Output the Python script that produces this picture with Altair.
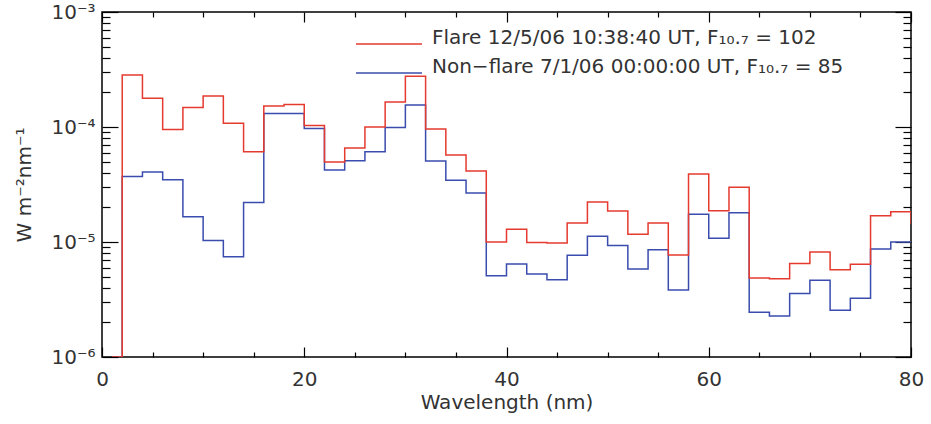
import altair as alt
import pandas as pd

# x positions of step edges (nm); first point is the empty 0-2 nm bin start
wavelength = [1] + list(range(2, 81, 2))

flare = [1e-6,
         2.83e-4, 1.78e-4, 9.5e-5, 1.48e-4, 1.86e-4, 1.08e-4, 6.1e-5, 1.52e-4, 1.57e-4, 1.03e-4,
         4.96e-5, 6.56e-5, 1.0e-4, 1.65e-4, 2.76e-4, 9.6e-5, 5.7e-5, 4.14e-5, 1.0e-5, 1.29e-5,
         9.9e-6, 9.8e-6, 1.46e-5, 2.23e-5, 1.86e-5, 1.17e-5, 1.46e-5, 7.7e-6, 3.9e-5, 1.87e-5,
         2.99e-5, 4.86e-6, 4.8e-6, 6.5e-6, 8.2e-6, 5.75e-6, 6.4e-6, 1.69e-5, 1.83e-5,
         1.43e-5]

nonflare = [1e-6,
            3.72e-5, 4.06e-5, 3.48e-5, 1.66e-5, 1.03e-5, 7.45e-6, 2.21e-5, 1.31e-4, 1.31e-4, 9.7e-5,
            4.23e-5, 5.1e-5, 6.1e-5, 9.9e-5, 1.55e-4, 5.06e-5, 3.44e-5, 2.67e-5, 5.1e-6, 6.44e-6,
            5.27e-6, 4.7e-6, 7.66e-6, 1.12e-5, 9.3e-6, 5.82e-6, 8.57e-6, 3.83e-6, 1.74e-5, 1.08e-5,
            1.8e-5, 2.45e-6, 2.27e-6, 3.56e-6, 4.64e-6, 2.55e-6, 3.24e-6, 8.7e-6, 1.0e-5,
            1.0e-5]

flare_label = "Flare 12/5/06 10:38:40 UT, F\u2081\u2080.\u2087 = 102"
nonflare_label = "Non\u2212flare 7/1/06 00:00:00 UT, F\u2081\u2080.\u2087 = 85"

x_ticks = list(range(0, 81, 5))
y_decades = [1e-6, 1e-5, 1e-4, 1e-3]
y_ticks = [k * d for d in [1e-6, 1e-5, 1e-4] for k in range(1, 10)] + [1e-3]

RED = "#e53a2f"
BLUE = "#3a4cad"
TXT = "#333333"
FONT = "DejaVu Sans"
W, H = 809, 345

df = pd.concat([
    pd.DataFrame({"wl": wavelength, "val": flare, "series": flare_label}),
    pd.DataFrame({"wl": wavelength, "val": nonflare, "series": nonflare_label}),
])

xscale = alt.Scale(domain=[0, 80], nice=False, zero=False)
yscale = alt.Scale(type="log", domain=[1e-6, 1e-3], nice=False)

is_decade = "abs(log(datum.value)/LN10 - round(log(datum.value)/LN10)) < 0.001"
ytick_size = {"condition": {"test": is_decade, "value": 16}, "value": 8}
xtick_size = {"condition": {"test": "datum.value % 20 == 0", "value": 10}, "value": 5}

label_expr = ("round(log(datum.value)/LN10) == -3 ? '10\u207b\u00b3' : "
              "round(log(datum.value)/LN10) == -4 ? '10\u207b\u2074' : "
              "round(log(datum.value)/LN10) == -5 ? '10\u207b\u2075' : '10\u207b\u2076'")

x_main = alt.Axis(orient="bottom", values=[0, 20, 40, 60, 80], ticks=False, domain=False,
                  grid=False, title="Wavelength (nm)", labelFontSize=20, titleFontSize=20,
                  labelPadding=12, titlePadding=3, labelFont=FONT, titleFont=FONT,
                  labelFlush=False, labelColor=TXT, titleColor=TXT, titleFontWeight="normal")
y_main = alt.Axis(orient="left", values=y_decades, ticks=False, domain=False, grid=False,
                  title="W m\u207b\u00b2nm\u207b\u00b9", labelExpr=label_expr, labelFontSize=20,
                  titleFontSize=20, labelPadding=7, titlePadding=16, labelFont=FONT,
                  labelFlush=False, titleFont=FONT, labelColor=TXT, titleColor=TXT,
                  titleFontWeight="normal")

def tick_axis(orient, values, size, offset):
    return alt.Axis(orient=orient, values=values, labels=False, domain=False, grid=False,
                    title=None, tickSize=size, tickColor="black", tickWidth=1.2, offset=offset)

color = alt.Color("series:N",
                  scale=alt.Scale(domain=[flare_label, nonflare_label], range=[RED, BLUE]),
                  legend=alt.Legend(orient="none", legendX=275, legendY=20, title=None,
                                    symbolType="M-3,0H3", symbolSize=484, symbolStrokeWidth=1.5,
                                    labelOffset=31, labelFontSize=20, labelFont=FONT,
                                    labelColor=TXT, labelBaseline="alphabetic", rowPadding=9,
                                    padding=0, labelLimit=700))

base = alt.Chart(df)

blue_line = base.transform_filter(alt.datum.series == nonflare_label).mark_line(
    interpolate="step-after", strokeWidth=1.5, clip=True).encode(
    x=alt.X("wl:Q", scale=xscale, axis=x_main),
    y=alt.Y("val:Q", scale=yscale, axis=y_main),
    color=color)

red_line = base.transform_filter(alt.datum.series == flare_label).mark_line(
    interpolate="step-after", strokeWidth=1.5, clip=True).encode(
    x=alt.X("wl:Q", scale=xscale, axis=None),
    y=alt.Y("val:Q", scale=yscale, axis=None),
    color=color)

# inward ticks on the bottom and left edges
ticks_a = base.mark_point(opacity=0).encode(
    x=alt.X("wl:Q", scale=xscale, axis=tick_axis("top", x_ticks, xtick_size, -H)),
    y=alt.Y("val:Q", scale=yscale, axis=tick_axis("right", y_ticks, ytick_size, -W)))

# inward ticks on the top and right edges
ticks_b = base.mark_point(opacity=0).encode(
    x=alt.X("wl:Q", scale=xscale, axis=tick_axis("bottom", x_ticks, xtick_size, -H)),
    y=alt.Y("val:Q", scale=yscale, axis=tick_axis("left", y_ticks, ytick_size, -W)))

chart = alt.layer(blue_line, red_line, ticks_a, ticks_b).resolve_axis(
    x="independent", y="independent").properties(
    width=W, height=H,
    autosize=alt.AutoSizeParams(type="none"),
    padding={"left": 102, "top": 12, "right": 20, "bottom": 67},
    background="white",
).configure_view(stroke="black", strokeWidth=1.5)

chart.save("out.html", embed_options={"renderer": "svg", "actions": False})
